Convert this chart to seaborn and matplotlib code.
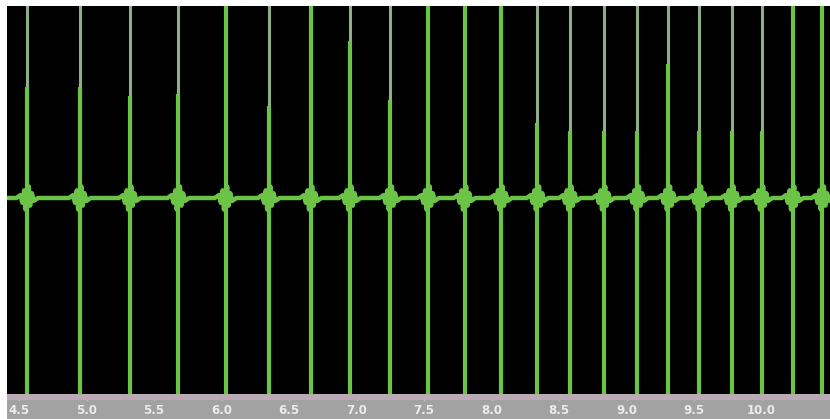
import numpy as np
import pandas as pd
import matplotlib
matplotlib.use("Agg")
import matplotlib.pyplot as plt
from matplotlib.ticker import MultipleLocator
import seaborn as sns

# ---- data ----
spike_times = [4.56, 4.95, 5.32, 5.68, 6.03, 6.35, 6.66, 6.95, 7.25, 7.53, 7.80,
               8.07, 8.34, 8.58, 8.83, 9.08, 9.31, 9.54, 9.78, 10.00, 10.23, 10.45]
# height where the bright part of each spike ends (above it the trace is pale)
bright_top = [0.58, 0.58, 0.53, 0.54, 1.1, 0.48, 1.1, 0.82, 0.51, 1.1, 1.1,
              1.1, 0.39, 0.35, 0.35, 0.35, 0.70, 0.35, 0.35, 0.35, 1.1, 1.1]
# small ringing around each spike on the baseline
burst_dt = [-0.08, -0.05, -0.035, -0.022, -0.012, 0.0, 0.012, 0.022, 0.035, 0.05, 0.08]
burst_v = [0.0, 0.015, -0.025, 0.04, -0.06, 0.0, 0.06, -0.04, 0.025, -0.015, 0.0]
tick_values = [4.5, 5.0, 5.5, 6.0, 6.5, 7.0, 7.5, 8.0, 8.5, 9.0, 9.5, 10.0]
tick_labels = ["4.5", "5.0", "5.5", "6.0", "6.5", "7.0", "7.5", "8.0", "8.5", "9.0", "9.5", "10.0"]

x_min, x_max = 4.411, 10.507

# build the baseline trace
ts, vs = [x_min], [0.0]
for st in spike_times:
    for dt, v in zip(burst_dt, burst_v):
        ts.append(st + dt)
        vs.append(v)
ts.append(x_max)
vs.append(0.0)
trace = pd.DataFrame({"t": ts, "v": vs})

green = "#6cc447"
pale = "#8fae86"

sns.set_theme(style="dark", rc={"axes.facecolor": "black"})
fig = plt.figure(figsize=(8.30, 4.19), dpi=100, facecolor="white")
W, H = 830, 419
ax = fig.add_axes([7 / W, (419 - 394) / H, 823 / W, (394 - 6) / H])
rul = fig.add_axes([7 / W, 0, 823 / W, 25 / H])

sns.lineplot(data=trace, x="t", y="v", sort=False, estimator=None,
             color=green, linewidth=3.2, ax=ax)
lows = [-1.2] * len(spike_times)
ax.vlines(spike_times, lows, bright_top, color=green, linewidth=3.0)
highs = [1.2] * len(spike_times)
ax.vlines(spike_times, bright_top, highs, color=pale, linewidth=2.2)

ax.set_xlim(x_min, x_max)
ax.set_ylim(-196 / 192, 1.0)
ax.set_xlabel("")
ax.set_ylabel("")
ax.set_xticks([])
ax.set_yticks([])
for s in ax.spines.values():
    s.set_visible(False)

# ruler
rul.set_facecolor("#a2a2a2")
rul.set_xlim(x_min, x_max)
rul.set_ylim(0, 1)
rul.axhspan(0.76, 1.0, color="#bba9b5", lw=0)
rul.set_yticks([])
rul.set_xticks(tick_values)
rul.set_xticklabels(tick_labels)
rul.xaxis.set_minor_locator(MultipleLocator(1 / 15))
rul.tick_params(axis="x", which="major", bottom=False, top=True, direction="in",
                length=4, width=1, color="#f0e0a0", pad=-11,
                labelsize=8.5, labelcolor="#ececec")
rul.tick_params(axis="x", which="minor", bottom=False, top=True, direction="in",
                length=3, width=1, color="#e4d4e0")
for lab in rul.get_xticklabels():
    lab.set_fontweight("bold")
for s in rul.spines.values():
    s.set_visible(False)
rul.grid(False)
ax.grid(False)

fig.savefig("out.png", dpi=100, facecolor="white")
